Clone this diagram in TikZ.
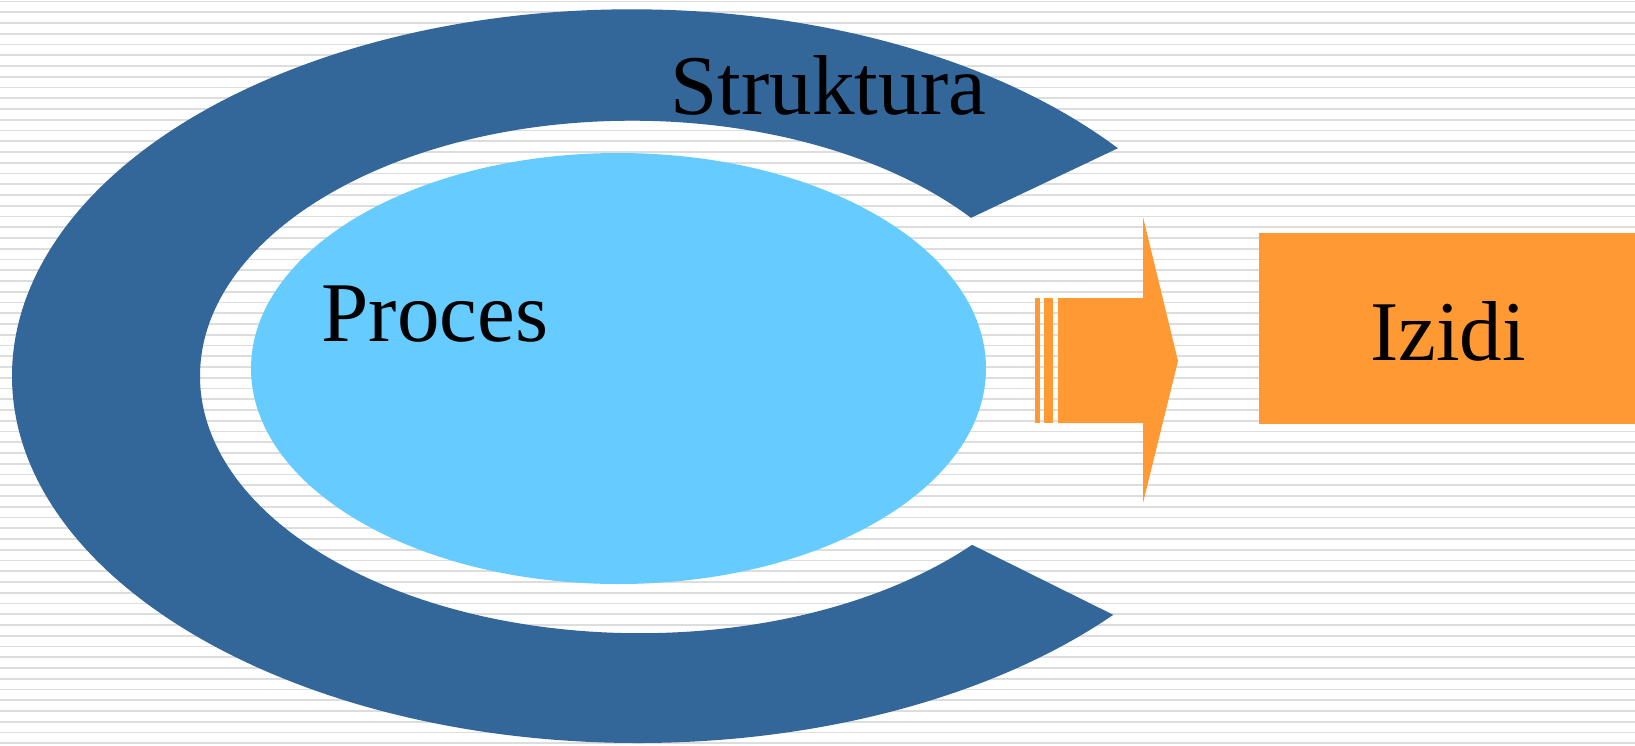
\documentclass[tikz,border=0pt]{standalone}
\usepackage{fontspec}
\setmainfont{Liberation Serif}
\usetikzlibrary{positioning}
\usetikzlibrary{calc}

\definecolor{struktblue}{HTML}{336699}
\definecolor{procblue}{HTML}{66CCFF}
\definecolor{izidorange}{HTML}{FF9933}

\begin{document}
\begin{tikzpicture}[x=1pt, y=-1pt,
    bigtext/.style={font=\fontsize{85}{92}\selectfont, inner sep=0pt},
    stripe/.style={gray!27, line width=1.7pt}]
  \useasboundingbox (0,0) rectangle (1635,745);
  \fill[white] (0,0) rectangle (1635,745);
  \foreach \k in {0,...,69}
    \draw[stripe] (0,{1.5+10.75*\k}) -- (1635,{1.5+10.75*\k});

  % struktura ring (open to the right)
  \fill[struktblue] (632,376) ++(-38.4:620 and 366.7)
    arc[start angle=-38.4, end angle=-180, x radius=620, y radius=366.7]
    arc[start angle=-180, end angle=-319.4, x radius=626, y radius=367]
    -- ($(640,376.2)+(41:440 and 257)$)
    arc[start angle=41, end angle=180, x radius=440, y radius=257]
    arc[start angle=-180, end angle=-38.3, x radius=432, y radius=255.5]
    -- cycle;

  % proces
  \fill[procblue] (618.5,368.5) ellipse[x radius=367.5, y radius=215.5];

  % block arrow
  \fill[izidorange] (1035,298) rectangle (1040,423);
  \fill[izidorange] (1044,298) rectangle (1053,423);
  \fill[izidorange] (1058,298) -- (1143,298) -- (1143,217) -- (1178,361)
    -- (1143,503) -- (1143,423) -- (1058,423) -- cycle;

  \node[bigtext, anchor=base] (struktura) at (828.5,114) {Struktura};
  \node[bigtext, anchor=base] (proces) at (435,341) {Proces};
  \node[fill=izidorange, minimum width=376pt, minimum height=191pt, inner sep=0pt]
    (izidi) at (1447,328.5) {};
  \node[bigtext, anchor=base] (izidilbl) at (1448,360) {Izidi};
\end{tikzpicture}
\end{document}
